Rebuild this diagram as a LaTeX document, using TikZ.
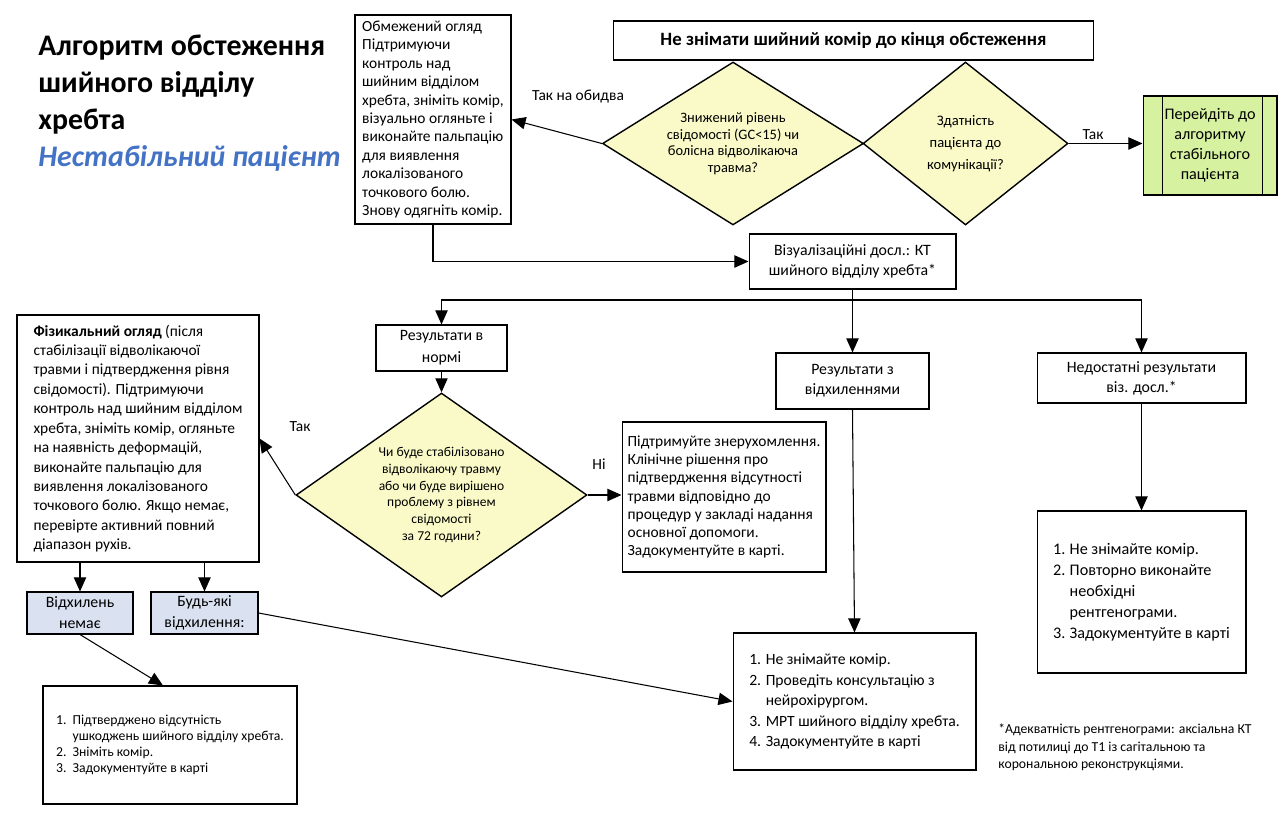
\documentclass[tikz,border=0pt]{standalone}
\usepackage{fontspec}
\setmainfont{Carlito}
\usepackage{tikz}
\usepackage{xcolor}
\usetikzlibrary{shapes.geometric,arrows.meta}
\definecolor{diayellow}{RGB}{250,250,200}
\definecolor{stablegreen}{RGB}{214,242,160}
\definecolor{devblue}{RGB}{218,226,242}
\definecolor{titleblue}{RGB}{68,114,196}
\newcommand{\nr}[1]{\makebox[0.33cm][l]{#1}}
\newcommand{\nrgap}{\hspace*{0.33cm}}

\begin{document}
\begin{tikzpicture}[x=0.02cm, y=-0.02cm,
  box/.style={draw, line width=0.6pt, align=center, inner sep=2pt, font=\fontsize{9}{11.3}\selectfont},
  leftbox/.style={box, align=left},
  decision/.style={draw, diamond, fill=diayellow, line width=0.8pt, inner sep=0pt, align=center},
  arr/.style={-{Triangle[length=8pt,width=7pt]}, line width=0.6pt},
  lbl/.style={font=\fontsize{8.8}{11.3}\selectfont}]
\useasboundingbox (0,0) rectangle (1288,813);
%----------------------------------------
\node[anchor=north west, align=left, inner sep=0pt, font=\fontsize{17}{20.9}\selectfont\bfseries] (title) at (38,35)
  {Алгоритм обстеження\\ шийного відділу\\ хребта\\ \textcolor{titleblue}{\itshape Нестабільний пацієнт}};
%----------------------------------------
\node[leftbox, minimum width=3.12cm, minimum height=4.18cm, font=\fontsize{8.8}{10.5}\selectfont] (limited) at (433,119.5)
  {Обмежений огляд\\ Підтримуючи\\ контроль над\\ шийним відділом\\ хребта, зніміть комір,\\ візуально огляньте і\\ виконайте пальпацію\\ для виявлення\\ локалізованого\\ точкового болю.\\ Знову одягніть комір.};
\node[box, minimum width=9.62cm, minimum height=0.78cm, font=\fontsize{10.7}{12}\selectfont\bfseries] (collar) at (853.5,40.5)
  {Не знімати шийний комір до кінця обстеження};
\node[decision, minimum width=5.22cm, minimum height=3.26cm, aspect=1.6, font=\fontsize{8.2}{9.4}\selectfont] (conscious) at (733,143.5)
  {Знижений рівень\\ свідомості (GC<15) чи\\ болісна відволікаюча\\ травма?};
\node[decision, minimum width=4.1cm, minimum height=3.26cm, aspect=1.26, font=\fontsize{8.3}{12.5}\selectfont] (talk) at (965.5,143.5)
  {Здатність\\ пацієнта до\\ комунікації?};
\node[box, fill=stablegreen, minimum width=2.68cm, minimum height=1.98cm, font=\fontsize{9.2}{11.3}\selectfont] (stable) at (1210,145.5)
  {Перейдіть до\\ алгоритму\\ стабільного\\ пацієнта};
\draw[line width=0.6pt] ([xshift=0.4cm]stable.north west) -- ([xshift=0.4cm]stable.south west);
\draw[line width=0.6pt] ([xshift=-0.3cm]stable.north east) -- ([xshift=-0.3cm]stable.south east);
\node[box, minimum width=4.14cm, minimum height=1.1cm] (imaging) at (852.5,261.5)
  {Візуалізаційні досл.: КТ\\ шийного відділу хребта*};
%----------------------------------------
\node[box, minimum width=2.62cm, minimum height=0.92cm, font=\fontsize{9}{12.5}\selectfont] (normal) at (441.5,348)
  {Результати в\\ нормі};
\node[box, minimum width=3.06cm, minimum height=1.12cm] (abnormal) at (852.5,381)
  {Результати з\\ відхиленнями};
\node[box, minimum width=4.18cm, minimum height=1.0cm] (insuff) at (1141.5,378)
  {Недостатні результати\\ віз. досл.*};
\node[decision, minimum width=5.82cm, minimum height=4.08cm, aspect=1.43, font=\fontsize{7.7}{9.5}\selectfont] (stabilise) at (441.5,495)
  {Чи буде стабілізовано\\ відволікаючу травму\\ або чи буде вирішено\\ проблему з рівнем\\ свідомості\\ за 72 години?};
\node[leftbox, minimum width=4.08cm, minimum height=3.0cm, font=\fontsize{8.8}{10.35}\selectfont] (keep) at (724,497)
  {Підтримуйте знерухомлення.\\ Клінічне рішення про\\ підтвердження відсутності\\ травми відповідно до\\ процедур у закладі надання\\ основної допомоги.\\ Задокументуйте в карті.};
\node[leftbox, minimum width=4.84cm, minimum height=4.94cm, font=\fontsize{8.8}{11.05}\selectfont] (exam) at (138,438.5)
  {\textbf{Фізикальний огляд} (після\\ стабілізації відволікаючої\\ травми і підтвердження рівня\\ свідомості). Підтримуючи\\ контроль над шийним відділом\\ хребта, зніміть комір, огляньте\\ на наявність деформацій,\\ виконайте пальпацію для\\ виявлення локалізованого\\ точкового болю. Якщо немає,\\ перевірте активний повний\\ діапазон рухів.};
\node[box, fill=devblue, minimum width=2.12cm, minimum height=0.84cm, font=\fontsize{9}{11.9}\selectfont] (nodev) at (80,613)
  {Відхилень\\ немає};
\node[box, fill=devblue, minimum width=2.14cm, minimum height=0.84cm, font=\fontsize{9}{11.9}\selectfont] (anydev) at (204.5,613)
  {Будь-які\\ відхилення:};
%----------------------------------------
\node[leftbox, minimum width=5.08cm, minimum height=2.36cm, font=\fontsize{7.8}{9.1}\selectfont] (clear) at (170,745)
  {\nr{1.}Підтверджено відсутність\\ \nrgap ушкоджень шийного відділу хребта.\\ \nr{2.}Зніміть комір.\\ \nr{3.}Задокументуйте в карті};
\node[leftbox, minimum width=4.86cm, minimum height=2.74cm, font=\fontsize{8.9}{11.7}\selectfont] (consult) at (854.5,701.5)
  {\nr{1.}Не знімайте комір.\\ \nr{2.}Проведіть консультацію з\\ \nrgap нейрохірургом.\\ \nr{3.}МРТ шийного відділу хребта.\\ \nr{4.}Задокументуйте в карті};
\node[leftbox, minimum width=4.18cm, minimum height=3.24cm, font=\fontsize{9.2}{11.9}\selectfont] (redo) at (1141.5,592)
  {\nr{1.}Не знімайте комір.\\ \nr{2.}Повторно виконайте\\ \nrgap необхідні\\ \nrgap рентгенограми.\\ \nr{3.}Задокументуйте в карті};
\node[anchor=north west, align=left, inner sep=0pt, font=\fontsize{7.8}{10.2}\selectfont] (note) at (998,723)
  {*Адекватність рентгенограми: аксіальна КТ\\ від потилиці до Т1 із сагітальною та\\ корональною реконструкціями.};
%----------------------------------------
\draw[arr] (conscious.west) -- (limited.east);
\draw[arr] (talk.east) -- (talk.east -| stable.west);
\draw[arr] (limited.south) |- (imaging.west);
\draw[arr] (imaging.south) -- (abnormal.north);
\coordinate (fork) at (852.5,300);
\draw[arr] (fork) -| (normal.north);
\draw[arr] (fork) -| (insuff.north);
\draw[arr] (normal.south) -- (stabilise.north);
\draw[arr] (stabilise.west) -- (exam.east);
\draw[arr] (stabilise.east) -- (stabilise.east -| keep.west);
\draw[arr] (abnormal.south) -- (consult.north);
\draw[arr] (insuff.south) -- (redo.north);
\draw[arr] (exam.south -| nodev.north) -- (nodev.north);
\draw[arr] (exam.south -| anydev.north) -- (anydev.north);
\draw[arr] (nodev.south) -- ([xshift=-0.14cm]clear.north);
\draw[arr] (anydev.east) -- (consult.west);
%----------------------------------------
\node[lbl] (yesboth) at (578,97) {Так на обидва};
\node[lbl] (yestalk) at (1093,135) {Так};
\node[lbl] (yesstab) at (300,427) {Так};
\node[lbl] (nostab) at (599,464) {Ні};
\end{tikzpicture}
\end{document}
